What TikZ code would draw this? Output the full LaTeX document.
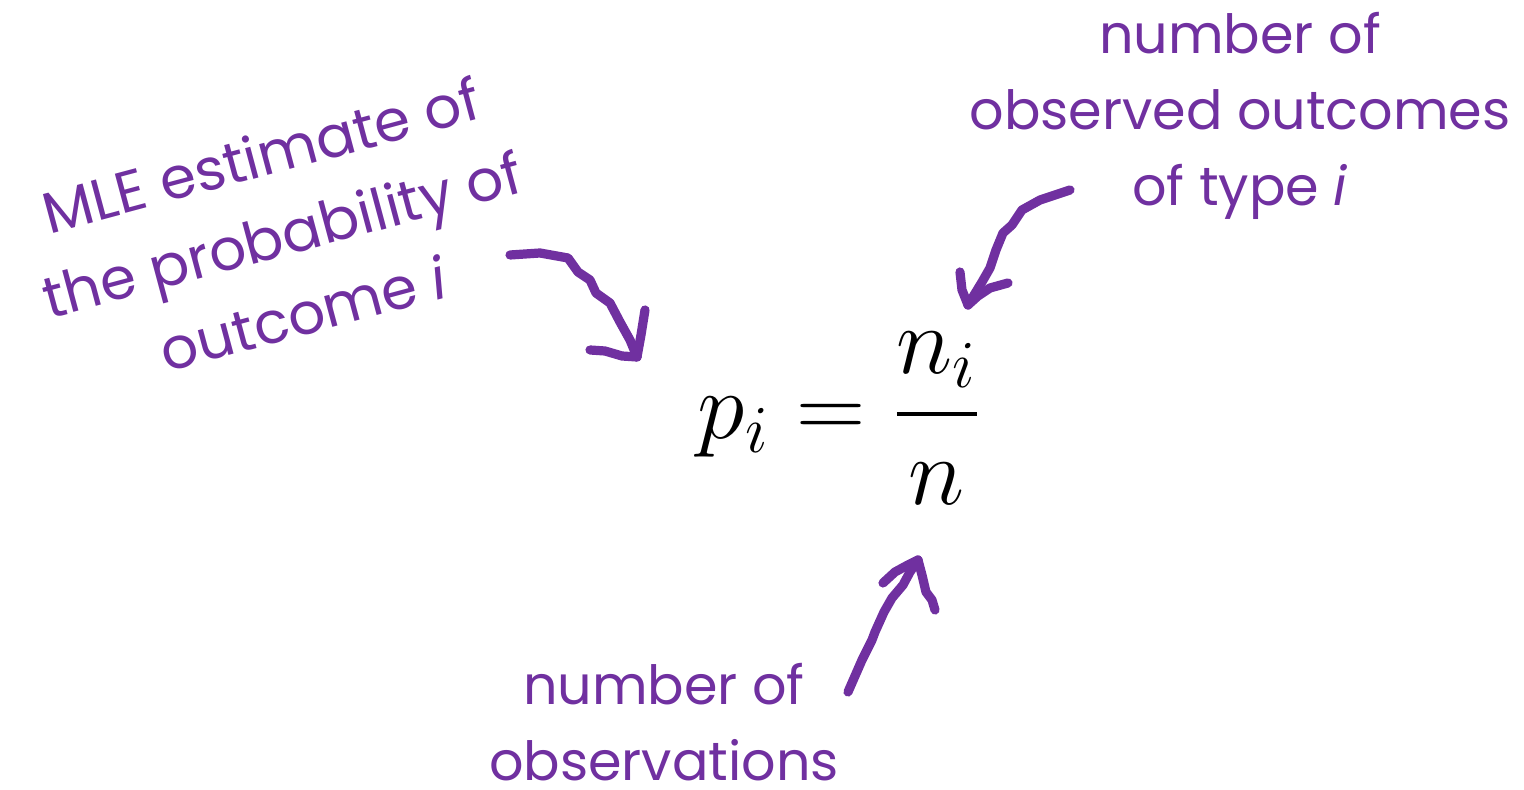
\documentclass[tikz,border=0pt]{standalone}
\usepackage{fix-cm}
\usepackage{amsmath}
\usepackage{fontspec}
\setmainfont{Poppins}
\definecolor{notepurple}{HTML}{7030A0}
\tikzset{
  note/.style={text=notepurple, align=center, font=\fontsize{13.5}{19}\selectfont},
  scrawl/.style={notepurple, line width=2.3pt, line cap=round, line join=round}
}
\begin{document}
\begin{tikzpicture}[x=0.25pt, y=-0.25pt]
  \useasboundingbox (0,0) rectangle (1524,790);
  % formula
  \node (eq) at (840,418) {\fontsize{24}{28}\selectfont$\displaystyle p_i = \frac{n_i}{n}$};
  % notes
  \node[note] (count) at (1240,116) {number of\\observed outcomes\\of type \textit{i}};
  \node[note, rotate=15, font=\fontsize{14.5}{20.5}\selectfont] (mle) at (282,234) {MLE estimate of\\the probability of\\outcome \textit{i}};
  \node[note, inner sep=1pt] (total) at (664,722) {number of\\observations};
  % arrow tips and tails
  \coordinate (mletail) at (510,255);
  \coordinate (mletip) at (637,357);
  \coordinate (counttail) at (1070,190);
  \coordinate (counttip) at (968,305);
  \coordinate (totaltail) at (848,692);
  \coordinate (totaltip) at (918,560);
  % MLE arrow
  \draw[scrawl] (mletail) -- (540,253) -- (568,258) -- (578,272) -- (590,280)
    -- (596,293) -- (610,303) -- (620,322) -- (630,340) -- (mletip);
  \draw[scrawl] (645,310) -- (641,335) -- (mletip);
  \draw[scrawl] (590,350) -- (605,351) -- (622,356) -- (mletip);
  % count arrow
  \draw[scrawl] (counttail) -- (1040,200) -- (1022,210) -- (1012,225) -- (1003,233)
    -- (996,250) -- (990,268) -- (982,282) -- (counttip);
  \draw[scrawl] (960,272) -- (962,290) -- (counttip);
  \draw[scrawl] (1008,283) -- (990,288) -- (978,296) -- (counttip);
  % total arrow
  \draw[scrawl] (totaltail) -- (862,660) -- (872,640) -- (875,632) -- (884,612)
    -- (892,598) -- (903,585) -- (910,572) -- (totaltip);
  \draw[scrawl] (883,583) -- (895,572) -- (906,566) -- (totaltip);
  \draw[scrawl] (totaltip) -- (922,575) -- (926,592) -- (932,600) -- (935,610);
\end{tikzpicture}
\end{document}
